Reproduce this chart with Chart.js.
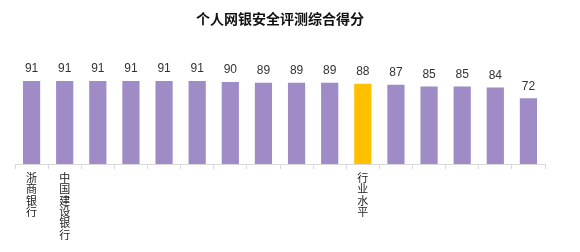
<!DOCTYPE html>
<html>
<head>
<meta charset="utf-8">
<script src="https://cdn.jsdelivr.net/npm/chart.js@4"></script>
<style>
  body { margin: 0; background: #fff; }
  #wrap { width: 580px; height: 252px; }
</style>
</head>
<body>
<div id="wrap"><canvas id="myChart" width="580" height="252"></canvas></div>
<script>
const banks = ["浙商银行", "中国建设银行", "", "", "", "", "", "", "", "", "行业水平", "", "", "", "", ""]
const scores = [91, 91, 91, 91, 91, 91, 90, 89, 89, 89, 88, 87, 85, 85, 84, 72]
const highlight = "行业水平"

// vertical text: one character per line
const labels = banks.map(b => b ? b.split("") : "")
const colors = banks.map(b => b === highlight ? "#FFC000" : "#9F8CC6")

const valueLabels = {
    id: "valueLabels",
    afterDatasetsDraw(chart) {
        const ctx = chart.ctx
        const meta = chart.getDatasetMeta(0)
        ctx.save()
        ctx.font = "12px 'Liberation Sans', 'DejaVu Sans', sans-serif"
        ctx.fillStyle = "#333"
        ctx.textAlign = "center"
        ctx.textBaseline = "bottom"
        meta.data.forEach((bar, i) => {
            ctx.fillText(scores[i], bar.x, bar.y - 6)
        })
        ctx.restore()
    }
}

const ctx = document.getElementById("myChart").getContext("2d")
new Chart(ctx, {
    type: "bar",
    data: {
        labels: labels,
        datasets: [{
            data: scores,
            backgroundColor: colors,
            categoryPercentage: 1,
            barPercentage: 0.52
        }]
    },
    options: {
        responsive: false,
        animation: false,
        layout: { padding: { left: 15, right: 35, bottom: 9 } },
        plugins: {
            legend: { display: false },
            tooltip: { enabled: false },
            title: {
                display: true,
                text: "个人网银安全评测综合得分",
                color: "#111",
                font: { size: 14, weight: "bold", family: "'Noto Sans CJK SC', sans-serif", lineHeight: 1.2 },
                padding: { top: 10, bottom: 46 }
            }
        },
        scales: {
            y: { display: false, min: 0, max: 100 },
            x: {
                border: { color: "#d9d9d9" },
                grid: { offset: true, drawOnChartArea: false, tickLength: 5, color: "#d9d9d9" },
                ticks: {
                    color: "#222",
                    maxRotation: 0,
                    autoSkip: false,
                    padding: 3,
                    font: { size: 11, family: "'Noto Sans CJK SC', sans-serif", lineHeight: 1.03 }
                }
            }
        }
    },
    plugins: [valueLabels]
})
</script>
</body>
</html>
